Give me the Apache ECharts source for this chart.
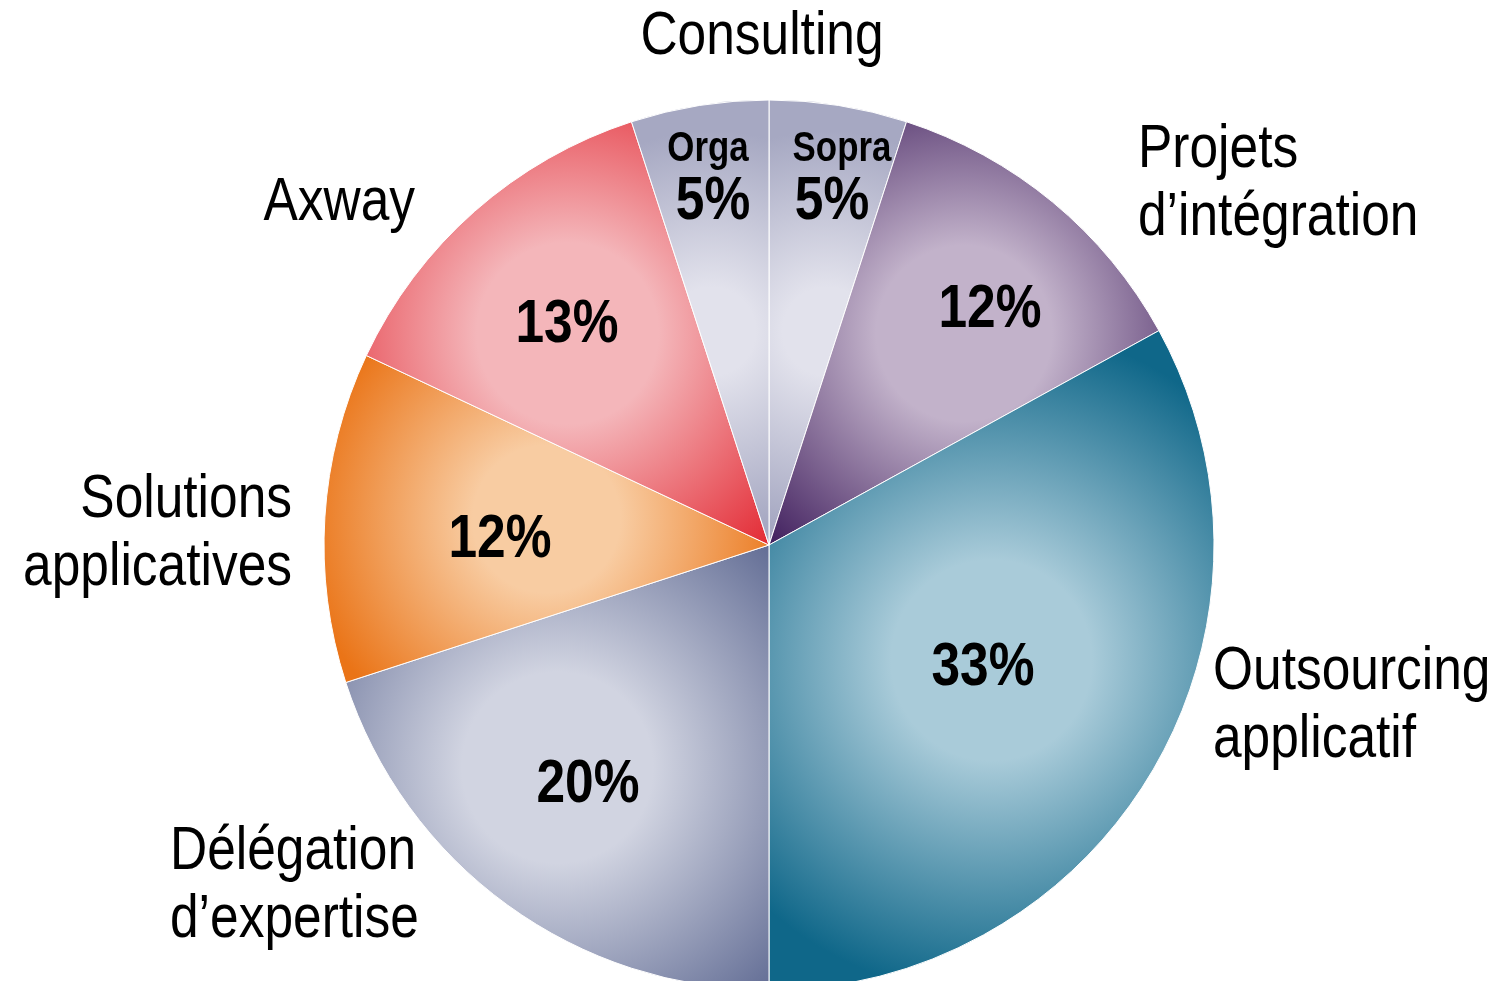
<!DOCTYPE html>
<html>
<head>
<meta charset="utf-8">
<script src="https://cdn.jsdelivr.net/npm/echarts@6/dist/echarts.min.js"></script>
<style>
html,body{margin:0;padding:0;background:#fff;}
#main{width:1502px;height:981px;}
</style>
</head>
<body>
<div id="main"></div>
<script>
// ---- data ----
var categories = ['Sopra', 'Projets d\u2019intégration', 'Outsourcing applicatif', 'Délégation d\u2019expertise', 'Solutions applicatives', 'Axway', 'Orga'];
var values = [5, 12, 33, 20, 12, 13, 5];
var innerNames = ['Sopra', '', '', '', '', '', 'Orga'];
var outerLabels = ['Consulting', 'Projets\nd\u2019intégration', 'Outsourcing\napplicatif', 'Délégation\nd\u2019expertise', 'Solutions\napplicatives', 'Axway'];

// ---- style ----
var centerColors = ['#e2e2ec', '#c2b2ca', '#a9cbd9', '#d1d4e1', '#f8cca2', '#f4b6ba', '#e2e2ec'];
var edgeColors   = ['#a6a8c2', '#3c1a5a', '#0f6789', '#5d6891', '#ea7417', '#e2222c', '#a6a8c2'];
var gradR        = [1.45, 0.75, 0.75, 0.75, 0.75, 0.75, 1.45];
var gradX        = [0.42, 0.5, 0.5, 0.5, 0.5, 0.5, 0.58];
var gradY        = [0.52, 0.5, 0.5, 0.5, 0.5, 0.5, 0.52];
var innerStop    = [0.22, 0.3, 0.3, 0.3, 0.3, 0.3, 0.22];
var FONT = '"Liberation Sans", Arial, sans-serif';
var SX = 0.83;

var data = values.map(function (v, i) {
  return {
    name: categories[i],
    value: v,
    itemStyle: {
      color: {
        type: 'radial', x: gradX[i], y: gradY[i], r: gradR[i],
        colorStops: [
          {offset: 0, color: centerColors[i]},
          {offset: innerStop[i], color: centerColors[i]},
          {offset: 1, color: edgeColors[i]}
        ]
      }
    }
  };
});

// label positions (px)
var pctPos = [[832, 202], [990, 310], [983, 668], [588, 785], [500, 540], [567, 325], [713, 202]];
var namePos = [[842, 149], null, null, null, null, null, [708, 149]];
var outerPos = [
  {x: 762, y: 37, align: 'center'},
  {x: 1138, y: 184, align: 'left'},
  {x: 1213, y: 706, align: 'left'},
  {x: 170, y: 886, align: 'left'},
  {x: 292, y: 534, align: 'right'},
  {x: 415, y: 203, align: 'right'}
];

var graphics = [];
values.forEach(function (v, i) {
  graphics.push({
    type: 'text', x: pctPos[i][0], y: pctPos[i][1], z: 100, scaleX: SX,
    style: {text: v + '%', font: 'bold 62px ' + FONT, fill: '#000', textAlign: 'center', textVerticalAlign: 'middle'}
  });
  if (namePos[i]) {
    graphics.push({
      type: 'text', x: namePos[i][0], y: namePos[i][1], z: 100, scaleX: SX,
      style: {text: innerNames[i], font: 'bold 42px ' + FONT, fill: '#000', textAlign: 'center', textVerticalAlign: 'middle'}
    });
  }
});
outerLabels.forEach(function (t, i) {
  graphics.push({
    type: 'text', x: outerPos[i].x, y: outerPos[i].y, z: 100, scaleX: SX,
    style: {text: t, font: '62px ' + FONT, lineHeight: 68, fill: '#000', textAlign: outerPos[i].align, textVerticalAlign: 'middle'}
  });
});

var chart = echarts.init(document.getElementById('main'), null, {renderer: 'canvas'});
chart.setOption({
  backgroundColor: '#fff',
  animation: false,
  series: [{
    type: 'pie',
    center: [769, 545],
    radius: [0, 445],
    startAngle: 90,
    clockwise: true,
    label: {show: false},
    labelLine: {show: false},
    emphasis: {disabled: true},
    itemStyle: {borderColor: '#ffffff', borderWidth: 1},
    data: data
  }],
  graphic: graphics
});
</script>
</body>
</html>
